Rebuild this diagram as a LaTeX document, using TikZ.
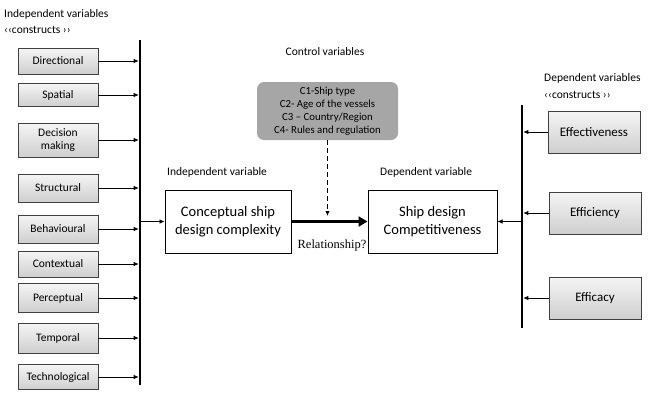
\documentclass[tikz,border=0pt]{standalone}
\usepackage{fontspec}
\setmainfont{Carlito}
\newfontfamily\serifrm{Liberation Serif}
\usetikzlibrary{arrows.meta}
\definecolor{ctrlgray}{HTML}{A6A6A6}
\definecolor{boxedge}{HTML}{404040}
\tikzset{
  construct/.style={draw=boxedge, line width=0.9pt, top color=gray!8, bottom color=gray!38,
    minimum width=80pt, align=center, inner sep=1pt, font=\fontsize{11.5}{13}\selectfont},
  outcome/.style={construct, minimum width=92pt, minimum height=42pt, font=\fontsize{13}{15}\selectfont},
  mainbox/.style={draw=black, line width=1pt, fill=white, align=center,
    font=\fontsize{14.5}{17.5}\selectfont},
  caption/.style={font=\fontsize{11.5}{13}\selectfont, align=left, anchor=west, inner sep=0pt},
  feed/.style={line width=0.7pt, -{Latex[length=5pt,width=4.5pt]}},
  busline/.style={line width=2.4pt},
}
\begin{document}
\begin{tikzpicture}[x=1pt,y=-1pt]
\useasboundingbox (0,0) rectangle (660,392);

% headings
\node[caption] (hIndep) at (4,14) {Independent variables};
\node[caption] (hIndepC) at (4,30) {‹‹constructs ››};
\node[caption] (hDep) at (544,78) {Dependent variables};
\node[caption] (hDepC) at (544,95) {‹‹constructs ››};
\node[font=\fontsize{11.5}{13}\selectfont, inner sep=0pt] (hCtrl) at (325,52) {Control variables};
\node[caption] (hIv) at (167,172) {Independent variable};
\node[caption] (hDv) at (380,172) {Dependent variable};

% left collecting bar
\coordinate (lbTop) at (140,40);
\coordinate (lbBot) at (140,385);
\draw[busline] (lbTop) -- (lbBot);

% independent constructs
\node[construct, minimum height=26pt] (dir) at (58,61) {Directional};
\node[construct, minimum height=23pt] (spa) at (58,95) {Spatial};
\node[construct, minimum height=34pt] (dec) at (58,140) {Decision\\making};
\node[construct, minimum height=28pt] (str) at (58,188) {Structural};
\node[construct, minimum height=28pt] (beh) at (58,229) {Behavioural};
\node[construct, minimum height=26pt] (con) at (58,264) {Contextual};
\node[construct, minimum height=29pt] (per) at (58,298) {Perceptual};
\node[construct, minimum height=30pt] (tem) at (58,338) {Temporal};
\node[construct, minimum height=25pt] (tec) at (58,377) {Technological};

\foreach \b in {dir,spa,dec,str,beh,con,per,tem,tec}
  \draw[feed, shorten >=1.3pt] (\b.east) -- (\b.east -| lbTop);

% central boxes
\node[mainbox, minimum width=126pt, minimum height=63pt] (csd) at (228,221.5)
  {Conceptual ship\\design complexity};
\node[mainbox, minimum width=129pt, minimum height=63pt] (sdc) at (432.5,221.5)
  {Ship design\\Competitiveness};

\draw[feed, shorten <=1.2pt] (csd.west -| lbTop) -- (csd.west);

% relationship
\draw[line width=3.2pt, -{Triangle[length=9pt,width=10pt]}] (csd.east) -- (sdc.west);
\node[font=\serifrm\fontsize{12.5}{14}\selectfont, inner sep=0pt] (rel) at (332,245) {Relationship?};

% control variables
\node[fill=ctrlgray, rounded corners=7pt, minimum width=141pt, minimum height=58pt,
  align=center, font=\fontsize{10.8}{13}\selectfont, inner sep=2pt] (ctrl) at (327.5,111)
  {C1-Ship type\\C2- Age of the vessels\\C3 – Country/Region\\C4- Rules and regulation};
\coordinate (ctrlEnd) at (327.5,216);
\draw[line width=1.1pt, dash pattern=on 5pt off 3pt, -{Latex[length=5pt,width=4.5pt]}]
  (ctrl.south) -- (ctrlEnd);

% right collecting bar
\coordinate (rbTop) at (522,105);
\coordinate (rbBot) at (522,328);
\draw[busline] (rbTop) -- (rbBot);

% dependent constructs
\node[outcome] (eft) at (594,132) {Effectiveness};
\node[outcome] (efi) at (595,213) {Efficiency};
\node[outcome] (efa) at (595,298) {Efficacy};

\foreach \b in {eft,efi,efa}
  \draw[feed, shorten >=1.3pt] (\b.west) -- (\b.west -| rbTop);

\draw[feed, shorten <=1.2pt] (sdc.east -| rbTop) -- (sdc.east);
\end{tikzpicture}
\end{document}
